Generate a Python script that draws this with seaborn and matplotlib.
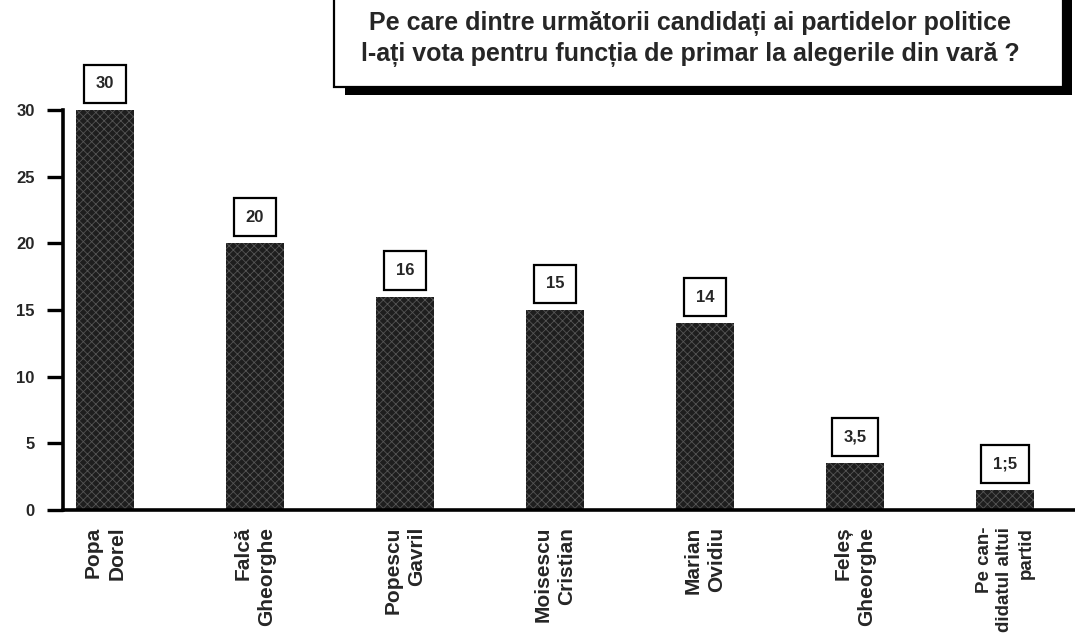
import matplotlib
matplotlib.use("Agg")
import matplotlib.pyplot as plt
import seaborn as sns
from matplotlib.patches import Rectangle

candidates = ["Popa\nDorel", "Falcă\nGheorghe", "Popescu\nGavril", "Moisescu\nCristian",
              "Marian\nOvidiu", "Feleș\nGheorghe", "Pe can-\ndidatul altui\npartid"]
values = [30, 20, 16, 15, 14, 3.5, 1.5]
value_labels = ["30", "20", "16", "15", "14", "3,5", "1;5"]
yticks = [0, 5, 10, 15, 20, 25, 30]
title = "Pe care dintre următorii candidați ai partidelor politice\nl-ați vota pentru funcția de primar la alegerile din vară ?"

sns.set_style("white")
plt.rcParams["font.family"] = ["Liberation Sans", "DejaVu Sans"]
plt.rcParams["hatch.color"] = "#555555"
plt.rcParams["hatch.linewidth"] = 0.6

fig = plt.figure(figsize=(10.75, 6.35), dpi=100)
ax = fig.add_axes([63 / 1075, 125 / 635, 1 - 63 / 1075, 400 / 635])

sns.barplot(x=candidates, y=values, color="#1e1e1e", width=0.39, ax=ax, saturation=1)
for p in ax.patches:
    p.set_hatch("xxxx")
    p.set_edgecolor("#555555")
    p.set_linewidth(0)

# value boxes above the bars
for i, (v, lab) in enumerate(zip(values, value_labels)):
    ax.annotate(lab, xy=(i, v), xytext=(0, 13.5), textcoords="offset points",
                ha="center", va="bottom", fontsize=12, fontweight="bold",
                annotation_clip=False,
                bbox=dict(boxstyle="square,pad=0.7", fc="white", ec="black", lw=1.6))

ax.set_xlim(-0.28, 6.467)
ax.set_ylim(0, 30)
ax.set_yticks(yticks)
ax.set_yticklabels([str(t) for t in yticks], fontsize=12, fontweight="bold")
ax.tick_params(axis="y", length=11.5, width=2.4, pad=9, color="black", left=True)
ax.tick_params(axis="x", length=0, pad=12)
for t in ax.get_xticklabels():
    t.set_rotation(90)
    t.set_fontsize(15)
    t.set_fontweight("bold")
    t.set_multialignment("right")
    t.set_linespacing(1.3)
    t.set_va("top")
    t.set_ha("center")
ax.get_xticklabels()[-1].set_fontsize(13.5)

sns.despine(ax=ax, top=True, right=True)
ax.spines["left"].set_linewidth(2.6)
ax.spines["bottom"].set_linewidth(2.6)
ax.spines["left"].set_color("black")
ax.spines["bottom"].set_color("black")
ax.set_xlabel("")
ax.set_ylabel("")

# title box with shadow
W, H = 1075, 635
fig.patches.append(Rectangle((345 / W, (H - 95) / H), (1072 - 345) / W, 95 / H,
                             transform=fig.transFigure, fc="black", ec="none", zorder=1))
fig.patches.append(Rectangle((334 / W, (H - 87) / H), (1063 - 334) / W, 92 / H,
                             transform=fig.transFigure, fc="white", ec="black", lw=1.6, zorder=2))
fig.text(690 / W, (H - 39) / H, title, ha="center", va="center", fontsize=18,
         fontweight="bold", linespacing=1.35, zorder=3)

fig.savefig("out.png", dpi=100)
